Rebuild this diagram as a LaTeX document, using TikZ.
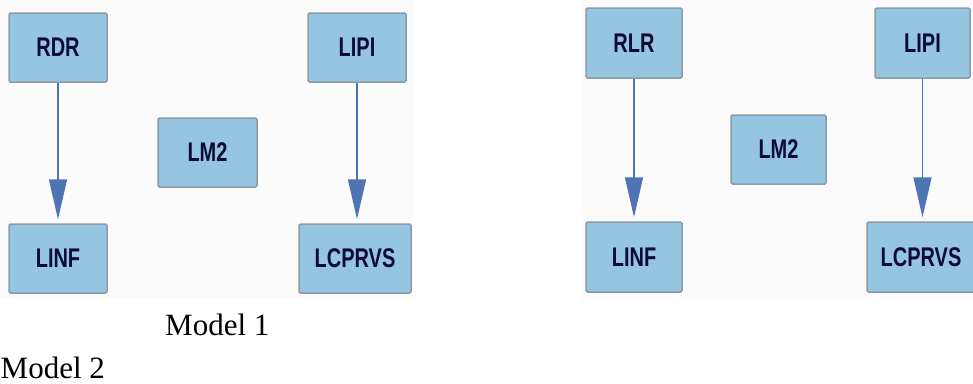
\documentclass[tikz,border=0pt]{standalone}
\usepackage{fontspec}
\setmainfont{Liberation Serif}
\newfontfamily\boxfont[FakeStretch=0.74]{Liberation Sans}
\usetikzlibrary{arrows.meta}
\definecolor{boxblue}{HTML}{96C5E1}
\definecolor{boxedge}{HTML}{8C9BA8}
\definecolor{arrowblue}{HTML}{4F74B3}
\definecolor{labelnavy}{HTML}{0B0B35}
\definecolor{panelgray}{HTML}{FBFBFB}
\begin{document}
\begin{tikzpicture}[x=1pt, y=-1pt,
    var/.style={rectangle, draw=boxedge, line width=1.5pt, fill=boxblue, rounded corners=1.5pt,
        minimum width=98pt, minimum height=69pt, inner sep=0pt,
        font=\boxfont\bfseries\fontsize{27}{30}\selectfont, text=labelnavy},
    link/.style={draw=arrowblue, line width=1.5pt, shorten >=4pt,
        -{Triangle[length=40pt, width=18pt]}},
    caption/.style={anchor=base west, inner sep=0pt, font=\fontsize{31}{34}\selectfont}]
    \useasboundingbox (0,0) rectangle (973,383);
    % panel backgrounds
    \fill[panelgray] (0,0) rectangle (413,298);
    \fill[panelgray] (582,0) rectangle (973,300);
    % Model 1
    \node[var] (rdr) at (58,47.5) {RDR};
    \node[var] (lipi) at (357,47.5) {LIPI};
    \node[var, minimum width=99pt] (lmtwo) at (207.5,152.5) {LM2};
    \node[var] (linf) at (58,258.5) {LINF};
    \node[var, minimum width=112pt] (lcprvs) at (355,258.5) {LCPRVS};
    \draw[link] (rdr) -- (linf);
    \draw[link] (lipi) -- (lcprvs.north -| lipi);
    % Model 2
    \node[var, minimum width=96pt, minimum height=70pt] (rlr) at (634,43) {RLR};
    \node[var, minimum width=95pt, minimum height=70pt] (lipiB) at (922.5,43) {LIPI};
    \node[var, minimum width=95pt] (lmtwoB) at (778.5,149.5) {LM2};
    \node[var, minimum width=96pt, minimum height=70pt] (linfB) at (634,257) {LINF};
    \node[var, minimum width=108pt, minimum height=70pt] (lcprvsB) at (921,257) {LCPRVS};
    \draw[link] (rlr) -- (linfB);
    \draw[link] (lipiB) -- (lcprvsB.north -| lipiB);
    % captions
    \node[caption] (capone) at (165,335) {Model 1};
    \node[caption] (captwo) at (0.5,378) {Model 2};
\end{tikzpicture}
\end{document}
